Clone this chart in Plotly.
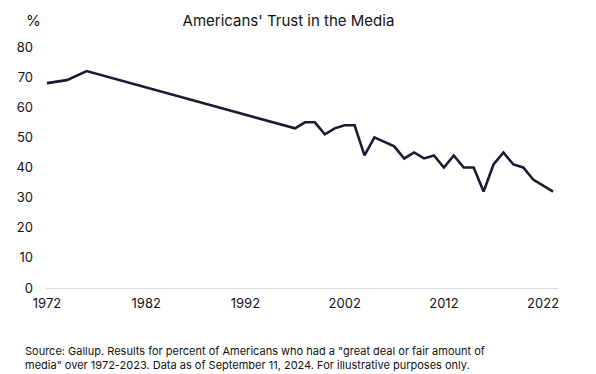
import plotly.graph_objects as go

years = [1972, 1974, 1976, 1997, 1998, 1999, 2000, 2001, 2002, 2003, 2004, 2005,
         2007, 2008, 2009, 2010, 2011, 2012, 2013, 2014, 2015, 2016, 2017, 2018,
         2019, 2020, 2021, 2022, 2023]
trust = [68, 69, 72, 53, 55, 55, 51, 53, 54, 54, 44, 50,
         47, 43, 45, 43, 44, 40, 44, 40, 40, 32, 41, 45,
         41, 40, 36, 34, 32]
x_ticks = [1972, 1982, 1992, 2002, 2012, 2022]
y_ticks = [0, 10, 20, 30, 40, 50, 60, 70, 80]

FONT = "Inter, Lato, sans-serif"

fig = go.Figure()
fig.add_trace(go.Scatter(x=years, y=trust, mode="lines",
                         line=dict(color="#1b1a33", width=2.6),
                         cliponaxis=False, hoverinfo="x+y"))

fig.update_layout(
    width=596, height=374,
    margin=dict(l=46, r=38, t=47, b=86),
    paper_bgcolor="white", plot_bgcolor="white",
    showlegend=False,
    font=dict(family=FONT, color="#111111", size=13),
    title=dict(text="Americans' Trust in the Media", x=0.484, xanchor="center",
               y=0.945, yanchor="middle", font=dict(family=FONT, size=15, color="#111111")),
    xaxis=dict(range=[1971.9, 2023.5], tickvals=x_ticks, ticktext=[str(v) for v in x_ticks],
               showgrid=False, zeroline=False, showline=False, ticks="",
               automargin=False, ticklabelstandoff=6,
               tickfont=dict(size=13, color="#111111")),
    yaxis=dict(range=[0, 80], tickvals=y_ticks, showgrid=False, zeroline=True,
               zerolinecolor="#dddddd", zerolinewidth=1, showline=False, ticks="",
               automargin=False, ticklabelstandoff=12,
               tickfont=dict(size=13, color="#111111")),
    annotations=[
        dict(text="%", xref="paper", yref="paper", x=-0.025, y=1.11, xanchor="center",
             yanchor="middle", showarrow=False, font=dict(size=15, color="#111111")),
        dict(text="Source: Gallup. Results for percent of Americans who had a \"great deal or fair amount of<br>"
                  "media\" over 1972-2023. Data as of September 11, 2024. For illustrative purposes only.",
             xref="paper", yref="paper", x=-0.044, y=-0.224, xanchor="left", yanchor="top",
             align="left", showarrow=False, font=dict(size=11, color="#111111")),
    ],
)

fig.write_html("out.html", config={"displayModeBar": False},
               post_script="document.body.style.margin='0';")
